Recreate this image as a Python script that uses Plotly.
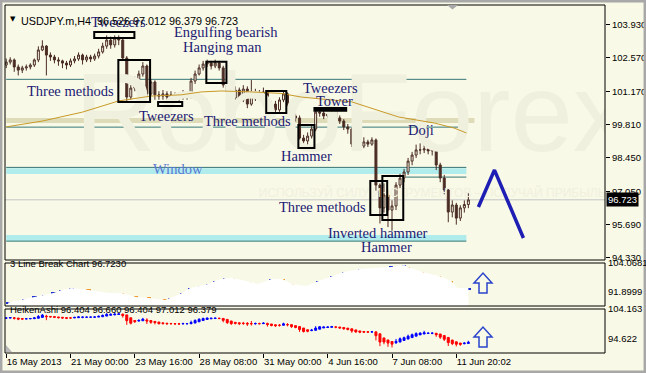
import plotly.graph_objects as go

# ---------------- data ----------------
first_open = 102.28
closes = [102.40, 102.49, 102.20, 102.07, 102.16, 102.20, 102.28, 102.49, 102.90, 103.06,
          102.69, 102.61, 102.49, 102.45, 102.36, 102.28, 102.45, 102.53, 102.69, 102.49,
          102.61, 102.53, 102.65, 102.82, 103.06, 103.31, 103.11, 103.39, 103.31, 102.57,
          100.96, 101.33, 101.66, 101.91, 102.24, 101.09, 101.58, 101.05, 101.00, 101.09,
          100.96, 101.05, 100.92, 101.00, 101.09, 101.00, 101.62, 101.91, 102.16, 102.32,
          102.36, 102.24, 102.36, 102.16, 101.46, 101.17, 100.92, 101.25, 100.84, 101.29,
          100.67, 101.17, 100.92, 101.09, 101.17, 100.51, 100.67, 100.43, 100.84, 101.09,
          100.51, 100.18, 100.10, 99.27, 99.15, 99.35, 99.64, 100.34, 100.30, 100.18,
          100.26, 100.39, 100.10, 99.97, 99.73, 99.64, 99.02, 99.15, 98.94, 99.11,
          99.02, 99.19, 97.33, 96.39, 96.92, 96.30, 96.47, 97.33, 97.62, 97.87,
          98.32, 98.57, 98.78, 98.78, 98.82, 98.74, 98.78, 98.16, 97.62, 97.13,
          96.22, 96.51, 95.97, 96.39, 96.53, 96.72]
highs = [102.55, 102.60, 102.55, 102.30, 102.25, 102.30, 102.35, 102.55, 103.05, 103.30,
         103.10, 102.80, 102.70, 102.60, 102.50, 102.45, 102.55, 102.65, 102.80, 102.75,
         102.70, 102.70, 102.75, 102.95, 103.20, 103.50, 103.45, 103.50, 103.50, 103.40,
         102.65, 101.45, 101.80, 102.05, 102.40, 102.30, 101.70, 101.65, 101.20, 101.25,
         101.20, 101.20, 101.15, 101.15, 101.25, 101.20, 101.75, 102.05, 102.30, 102.45,
         102.50, 102.45, 102.50, 102.45, 102.25, 101.55, 101.30, 101.40, 101.35, 101.45,
         101.40, 101.66, 101.30, 101.25, 101.35, 101.25, 100.80, 100.80, 100.95, 101.25,
         101.15, 100.60, 100.30, 100.20, 99.40, 99.50, 99.80, 100.45, 100.45, 100.40,
         100.40, 100.50, 100.45, 100.20, 100.05, 99.85, 99.70, 99.30, 99.25, 99.30,
         99.20, 99.30, 99.25, 97.40, 97.40, 97.10, 96.70, 97.45, 97.80, 98.00,
         98.45, 98.70, 99.00, 99.05, 99.35, 99.00, 99.05, 98.85, 98.25, 97.75,
         97.20, 96.70, 96.60, 96.50, 96.70, 97.01]
lows = [102.15, 102.30, 102.00, 101.85, 101.95, 102.05, 102.10, 102.20, 102.40, 102.85,
        101.85, 102.45, 102.35, 102.25, 102.15, 102.10, 102.20, 102.35, 102.45, 102.30,
        102.40, 102.40, 102.45, 102.55, 102.75, 102.95, 102.95, 103.00, 103.10, 102.45,
        100.75, 100.85, 101.20, 101.55, 101.80, 100.95, 101.00, 100.85, 100.85, 100.85,
        100.80, 100.85, 100.80, 100.80, 100.85, 100.85, 100.90, 101.50, 101.85, 102.05,
        102.20, 102.10, 102.15, 102.05, 101.35, 100.95, 100.75, 100.85, 100.70, 100.75,
        100.50, 100.60, 100.80, 100.85, 100.95, 100.35, 100.40, 100.30, 100.35, 100.75,
        100.40, 100.05, 99.95, 99.10, 98.95, 99.00, 99.25, 99.55, 100.15, 100.05,
        100.10, 100.15, 99.95, 99.85, 99.60, 99.45, 98.90, 98.90, 98.80, 98.85,
        98.90, 98.95, 97.10, 95.75, 96.20, 95.60, 95.45, 96.30, 97.20, 97.45,
        97.75, 98.15, 98.45, 98.60, 98.65, 98.60, 98.55, 97.95, 97.45, 96.95,
        95.80, 96.00, 95.70, 95.85, 96.20, 96.38]
opens = [first_open] + closes[:-1]
bars = list(range(len(closes)))

ma_idx = [0, 9, 19, 28, 36, 43.5, 48.5, 53.5, 61, 68.4, 73.4, 86, 97.6, 106.5, 111.5, 114.5]
ma_val = [99.73, 99.97, 100.34, 100.80, 101.00, 101.05, 101.17, 101.21, 101.17, 101.11,
          100.96, 100.76, 100.14, 99.89, 99.68, 99.48]

date_ticks = [0, 16, 32, 48, 64, 80, 96, 112]
date_labels = ["16 May 2013", "21 May 00:00", "23 May 16:00", "28 May 08:00",
               "31 May 00:00", "4 Jun 16:00", "7 Jun 08:00", "11 Jun 20:02"]
price_ticks = [103.930, 102.570, 101.170, 99.810, 98.450, 97.050, 95.690, 94.330]
last_price = 96.723

# support / resistance levels: (price, start bar, end bar)
level_lines = [(101.69, 0, 114.5), (99.72, 0, 114.5), (98.06, 0, 114.5),
               (97.66, 99.5, 114.5), (95.02, 0, 114.5)]
# bands: (low, high, start, end, colour)
bands = [(99.89, 100.10, 0, 116.5, "#dedcb8"), (97.79, 98.03, 0, 114.5, "#b0ecec"),
         (95.03, 95.27, 0, 114.5, "#b0ecec")]

# pattern boxes: (x0, x1, y0, y1, filled)
boxes = [(21.9, 31.9, 103.39, 103.64, False), (27.9, 35.8, 100.76, 102.49, False),
         (37.8, 43.8, 100.59, 100.76, False), (49.8, 54.8, 101.54, 102.41, False),
         (64.7, 69.7, 100.30, 101.21, False), (72.7, 76.7, 98.86, 99.81, False),
         (76.7, 84.6, 100.39, 100.51, True), (90.6, 94.8, 96.10, 97.50, False),
         (93.6, 98.8, 95.89, 97.71, False)]

labels = [("Tweezers", 27.9, 104.05), ("Engulfing bearish", 54.8, 103.64),
          ("Hanging man", 53.8, 103.02), ("Three methods", 15.9, 101.21),
          ("Tweezers", 39.8, 100.18), ("Three methods", 60.0, 99.97),
          ("Tweezers", 80.6, 101.33), ("Tower", 81.6, 100.80),
          ("Hammer", 74.7, 98.53), ("Doji", 103.3, 99.60),
          ("Three methods", 78.6, 96.43), ("Inverted hammer", 92.6, 95.36),
          ("Hammer", 94.6, 94.78)]
window_label = ("Window", 42.8, 97.99)

forecast_x = [117.5, 121.5, 128.7]
forecast_y = [96.43, 97.95, 95.15]

# 3 line break blocks: (bar, low, high, colour)
lb_blocks = [(0.5, 90.0, 90.4, "b"), (4.5, 90.64, 91.90, "b"), (7, 92.32, 92.74, "b"),
             (9.5, 92.74, 93.58, "b"), (11.75, 94.0, 94.42, "b"), (13.75, 94.84, 95.68, "b"),
             (16.25, 95.68, 96.52, "b"), (20.5, 95.26, 95.68, "o"), (23.25, 94.0, 94.84, "o"),
             (25.5, 93.58, 94.42, "b"), (28.75, 93.16, 94.42, "o"), (32.25, 92.32, 92.74, "o"),
             (35.5, 91.90, 92.32, "o"), (39.5, 91.06, 91.48, "o"), (40.75, 91.48, 92.32, "b"),
             (43.75, 92.32, 94.42, "b"), (45.75, 94.84, 96.52, "b"), (48.25, 96.52, 97.35, "b"),
             (50.25, 97.35, 98.19, "b"), (52, 98.61, 99.45, "b"), (54.5, 99.87, 100.71, "b"),
             (56.5, 99.87, 100.71, "o"), (60.25, 98.19, 99.03, "o"), (62.75, 96.52, 98.19, "o"),
             (66, 99.03, 100.29, "b"), (68.75, 98.61, 100.29, "o"), (71, 97.35, 98.19, "o"),
             (74.75, 96.94, 97.35, "o"), (77.75, 98.19, 99.45, "b"), (81, 100.29, 101.55, "b"),
             (84, 102.39, 103.23, "b"), (88, 103.65, 104.49, "b"), (92.5, 104.07, 104.91, "o"),
             (95.75, 104.91, 105.33, "b"), (99, 105.33, 106.17, "b"), (100, 102.81, 105.33, "o"),
             (103.5, 102.39, 103.23, "o"), (107.75, 100.71, 101.55, "o"),
             (110.75, 96.52, 99.45, "o"), (112.25, 95.68, 96.52, "o"), (115, 95.68, 96.52, "b")]
lb_title = "3 Line Break Chart 96.7230"
lb_ticks = ["104.0681", "91.8999"]
ha_title = "HeikenAshi 96.404 96.660 96.404 97.012 96.379"
ha_ticks = ["104.163", "94.622"]

# ---------------- layout helpers (pixels -> paper) ----------------
W, H = 646, 373
L, R, T, B = 5, 41, 5, 20
PW, PH = W - L - R, H - T - B


def fx(px):
    return (px - L) / PW


def fy(py):
    return (H - B - py) / PH


BG = "#f9f9e7"
BROWN = "#4b2d24"
NAVY = "#1b1b74"
TEAL = "#357676"

# Heiken Ashi from the OHLC arrays
ha_c = [(o + h + l + c) / 4 for o, h, l, c in zip(opens, highs, lows, closes)]
ha_o = [(opens[0] + closes[0]) / 2]
for k in range(1, len(closes)):
    ha_o.append((ha_o[-1] + ha_c[k - 1]) / 2)
ha_h = [max(h, a, b) for h, a, b in zip(highs, ha_o, ha_c)]
ha_l = [min(l, a, b) for l, a, b in zip(lows, ha_o, ha_c)]

fig = go.Figure()

# watermark (drawn first, below everything)
fig.add_trace(go.Scatter(x=[86], y=[99.9], mode="text", text=["RoboForex"],
                         textfont=dict(family="Liberation Sans", size=112, color="#f0f0de"),
                         hoverinfo="skip", showlegend=False, xaxis="x", yaxis="y"))
fig.add_trace(go.Scatter(x=[106], y=[96.95], mode="text",
                         text=["ИСПОЛЬЗУЙ СИЛУ ИНСТРУМЕНТОВ – ПОЛУЧАЙ ПРИБЫЛЬ"],
                         textfont=dict(family="Liberation Sans", size=12, color="#f0f0de"),
                         hoverinfo="skip", showlegend=False, xaxis="x", yaxis="y"))

# moving average
fig.add_trace(go.Scatter(x=ma_idx, y=ma_val, mode="lines",
                         line=dict(color="#c89a28", width=1), showlegend=False,
                         xaxis="x", yaxis="y"))

# main candles
fig.add_trace(go.Candlestick(x=bars, open=opens, high=highs, low=lows, close=closes,
                             increasing=dict(line=dict(color=BROWN, width=1), fillcolor=BG),
                             decreasing=dict(line=dict(color=BROWN, width=1), fillcolor=BROWN),
                             whiskerwidth=0, showlegend=False, xaxis="x", yaxis="y"))

# forecast arrow
fig.add_trace(go.Scatter(x=forecast_x, y=forecast_y, mode="lines",
                         line=dict(color="#1e1eb4", width=3.5), showlegend=False,
                         xaxis="x", yaxis="y"))

# 3 line break pane
lb_x = [b[0] for b in lb_blocks]
lb_hi = [b[2] for b in lb_blocks]
fig.add_trace(go.Scatter(x=lb_x, y=lb_hi, mode="lines", fill="tozeroy",
                         fillcolor="#ffffff", line=dict(width=0, color="#ffffff"),
                         showlegend=False, xaxis="x2", yaxis="y2"))
colmap = {"b": "#1e32d2", "o": "#ee9a30"}
fig.add_trace(go.Bar(x=lb_x, y=[b[2] - b[1] for b in lb_blocks],
                     base=[b[1] for b in lb_blocks], width=1.1,
                     marker=dict(color=[colmap[b[3]] for b in lb_blocks], line=dict(width=0)),
                     showlegend=False, xaxis="x2", yaxis="y2"))

# Heiken Ashi pane
fig.add_trace(go.Candlestick(x=bars, open=ha_o, high=ha_h, low=ha_l, close=ha_c,
                             increasing=dict(line=dict(color="#0000ff", width=1), fillcolor="#0000ff"),
                             decreasing=dict(line=dict(color="#ff0000", width=1), fillcolor="#ff0000"),
                             whiskerwidth=0, showlegend=False, xaxis="x3", yaxis="y3"))

shapes = []
# bands and level lines (below traces)
for lo, hi, x0, x1, col in bands:
    shapes.append(dict(type="rect", xref="x", yref="y", x0=x0, x1=x1, y0=lo, y1=hi,
                       fillcolor=col, line=dict(width=0), layer="below"))
for p, x0, x1 in level_lines:
    shapes.append(dict(type="line", xref="x", yref="y", x0=x0, x1=x1, y0=p, y1=p,
                       line=dict(color=TEAL, width=1), layer="below"))
shapes.append(dict(type="line", xref="paper", yref="y", x0=0, x1=1, y0=last_price, y1=last_price,
                   line=dict(color="#c4c4c4", width=1), layer="below"))
# pattern boxes
for x0, x1, y0, y1, filled in boxes:
    shapes.append(dict(type="rect", xref="x", yref="y", x0=x0, x1=x1, y0=y0, y1=y1,
                       line=dict(color="#000000", width=2),
                       fillcolor="#000000" if filled else "rgba(0,0,0,0)"))
# pane frames
for top, bot in [(5, 260), (263, 306), (309, 353)]:
    shapes.append(dict(type="rect", xref="paper", yref="paper", x0=fx(5), x1=fx(605),
                       y0=fy(bot), y1=fy(top), line=dict(color="#000000", width=1)))
# outer gray frame
shapes.append(dict(type="rect", xref="paper", yref="paper", x0=fx(1.2), x1=fx(644.8),
                   y0=fy(371.8), y1=fy(1.2), line=dict(color="#a8a8a8", width=2.5)))
# small gray shift marker at top and corner marker in bottom pane
shapes.append(dict(type="path", xref="paper", yref="paper",
                   path=f"M {fx(447)},{fy(5)} L {fx(458)},{fy(5)} L {fx(452.5)},{fy(9.5)} Z",
                   fillcolor="#a8a8a8", line=dict(width=0)))
shapes.append(dict(type="path", xref="paper", yref="paper",
                   path=f"M {fx(6)},{fy(352)} L {fx(6)},{fy(345)} L {fx(12)},{fy(352)} Z",
                   fillcolor="#b8b8b8", line=dict(width=0)))
# hollow up arrows in sub panes
for dy in (0, 54):
    pts = [(479, 293), (479, 283), (474, 283), (483, 273), (492, 283), (487, 283), (487, 293)]
    path = "M " + " L ".join(f"{fx(px)},{fy(py + dy)}" for px, py in pts) + " Z"
    shapes.append(dict(type="path", xref="paper", yref="paper", path=path,
                       line=dict(color="#2a44cc", width=1.5), fillcolor="rgba(0,0,0,0)"))

annotations = []
for txt, x, y in labels:
    annotations.append(dict(text=txt, x=x, y=y, xref="x", yref="y", showarrow=False,
                            font=dict(family="Liberation Serif", size=14.5, color=NAVY)))
annotations.append(dict(text=window_label[0], x=window_label[1], y=window_label[2],
                        xref="x", yref="y", showarrow=False,
                        font=dict(family="Liberation Serif", size=14.5, color="#5a78d4")))
SANS = "Liberation Sans"
annotations.append(dict(text="▼", x=fx(8), y=fy(13), xref="paper", yref="paper",
                        xanchor="left", showarrow=False,
                        font=dict(family="DejaVu Sans", size=7, color="#000000")))
annotations.append(dict(text="USDJPY.m,H4  96.526 97.012 96.379 96.723", x=fx(19), y=fy(13),
                        xref="paper", yref="paper", xanchor="left", showarrow=False,
                        font=dict(family=SANS, size=10.8, color="#000000")))
annotations.append(dict(text=lb_title, x=fx(8), y=fy(271), xref="paper", yref="paper",
                        xanchor="left", showarrow=False,
                        font=dict(family=SANS, size=9.5, color="#000000")))
annotations.append(dict(text=ha_title, x=fx(8), y=fy(317), xref="paper", yref="paper",
                        xanchor="left", showarrow=False,
                        font=dict(family=SANS, size=9.5, color="#000000")))
for txt, py in zip(lb_ticks + ha_ticks, [270, 299, 316, 346]):
    annotations.append(dict(text=txt, x=fx(606), y=fy(py), xref="paper", yref="paper",
                            xanchor="left", showarrow=False,
                            font=dict(family=SANS, size=9.5, color="#000000")))
annotations.append(dict(text=f"{last_price:.3f}", x=fx(606), y=last_price, xref="paper",
                        yref="y", xanchor="left", showarrow=False, bgcolor="#000000",
                        borderpad=1, font=dict(family=SANS, size=9.5, color="#ffffff")))

xr = [-0.3, 149.0]
common_x = dict(range=xr, showgrid=False, zeroline=False, showline=False,
                rangeslider=dict(visible=False), fixedrange=True, automargin=False)
fig.update_layout(
    width=W, height=H, margin=dict(l=L, r=R, t=T, b=B, autoexpand=False),
    paper_bgcolor=BG, plot_bgcolor=BG, showlegend=False,
    font=dict(family=SANS, size=9.5, color="#000000"),
    xaxis=dict(**common_x, anchor="y", showticklabels=False),
    xaxis2=dict(**common_x, anchor="y2", showticklabels=False),
    xaxis3=dict(**common_x, anchor="y3", tickvals=date_ticks, ticktext=date_labels,
                ticks="outside", ticklen=4, tickcolor="#000000", tickangle=0,
                ticklabelposition="outside right",
                tickfont=dict(family=SANS, size=9.5, color="#000000")),
    yaxis=dict(domain=[fy(260), fy(5)], range=[94.243, 104.754], side="right", anchor="x",
               tickvals=price_ticks, ticktext=[f"{v:.3f}" for v in price_ticks],
               ticks="outside", ticklen=4, tickcolor="#000000", showgrid=False, zeroline=False,
               automargin=False, tickfont=dict(family=SANS, size=9.5, color="#000000")),
    yaxis2=dict(domain=[fy(306), fy(263)], range=[88.96, 107.0], anchor="x2", automargin=False,
                showticklabels=False, showgrid=False, zeroline=False),
    yaxis3=dict(domain=[fy(353), fy(309)], range=[94.15, 104.47], anchor="x3", automargin=False,
                showticklabels=False, showgrid=False, zeroline=False),
    shapes=shapes, annotations=annotations, bargap=0,
)

fig.write_html("out.html")
